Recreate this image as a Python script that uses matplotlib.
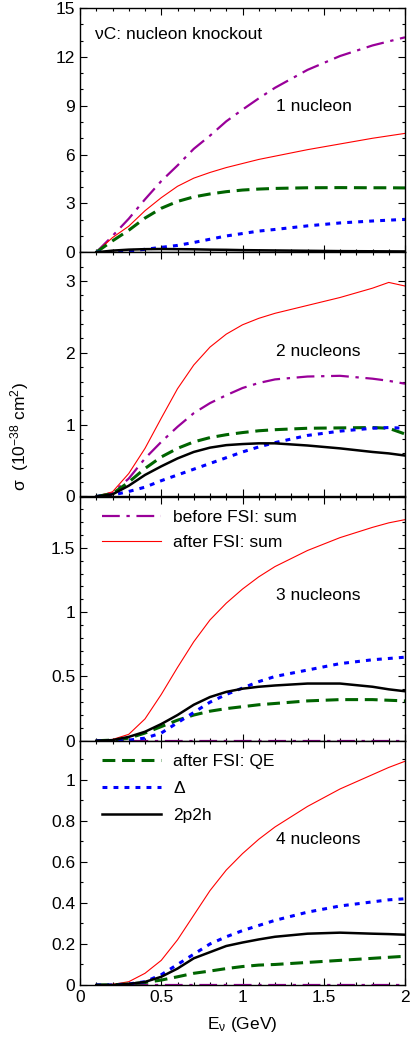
import numpy as np
import matplotlib
matplotlib.use('Agg')
import matplotlib.pyplot as plt
from matplotlib.ticker import MultipleLocator, FuncFormatter

plt.rcParams['font.family'] = ['Liberation Sans', 'DejaVu Sans']
plt.rcParams['mathtext.default'] = 'regular'

# neutrino energy grid (GeV)
E = [0.1, 0.2, 0.3, 0.4, 0.5, 0.6, 0.7, 0.8, 0.9, 1.0, 1.1, 1.2, 1.4, 1.6, 1.8, 1.9, 2.0]

# 1 nucleon
before_1 = [0, 1.0, 2.06, 3.25, 4.37, 5.33, 6.35, 7.16, 8.04, 8.76, 9.45, 10.1, 11.2, 12.05, 12.7, 12.95, 13.2]
after_1 = [0, 0.9, 1.6, 2.55, 3.35, 4.05, 4.55, 4.9, 5.2, 5.45, 5.7, 5.9, 6.3, 6.65, 7.0, 7.15, 7.3]
qe_1 = [0, 0.7, 1.35, 2.1, 2.7, 3.12, 3.4, 3.58, 3.72, 3.82, 3.88, 3.92, 3.96, 3.97, 3.96, 3.96, 3.95]
delta_1 = [0, 0.02, 0.08, 0.18, 0.3, 0.42, 0.6, 0.8, 1.0, 1.15, 1.3, 1.4, 1.62, 1.8, 1.92, 1.97, 2.02]
np2h_1 = [0, 0.1, 0.16, 0.19, 0.2, 0.19, 0.18, 0.16, 0.15, 0.13, 0.12, 0.11, 0.09, 0.07, 0.06, 0.055, 0.05]

# 2 nucleons
before_2 = [0, 0.05, 0.25, 0.53, 0.76, 0.97, 1.16, 1.3, 1.41, 1.51, 1.58, 1.63, 1.67, 1.68, 1.64, 1.61, 1.57]
after_2 = [0, 0.065, 0.32, 0.67, 1.09, 1.5, 1.83, 2.08, 2.26, 2.39, 2.48, 2.55, 2.66, 2.77, 2.9, 2.98, 2.93]
qe_2 = [0, 0.04, 0.2, 0.39, 0.55, 0.67, 0.76, 0.82, 0.86, 0.89, 0.915, 0.93, 0.95, 0.955, 0.96, 0.95, 0.87]
delta_2 = [0, 0.02, 0.07, 0.13, 0.22, 0.3, 0.38, 0.46, 0.54, 0.62, 0.69, 0.75, 0.85, 0.91, 0.95, 0.96, 0.95]
np2h_2 = [0, 0.03, 0.15, 0.3, 0.42, 0.53, 0.62, 0.68, 0.715, 0.73, 0.74, 0.74, 0.71, 0.67, 0.62, 0.6, 0.57]

# 3 nucleons
before_3 = [0] * 17
after_3 = [0, 0.01, 0.05, 0.17, 0.36, 0.57, 0.77, 0.94, 1.07, 1.18, 1.275, 1.355, 1.48, 1.58, 1.66, 1.695, 1.72]
qe_3 = [0, 0.005, 0.02, 0.06, 0.11, 0.16, 0.2, 0.23, 0.25, 0.265, 0.28, 0.29, 0.31, 0.32, 0.32, 0.315, 0.31]
delta_3 = [0, 0.0, 0.005, 0.02, 0.06, 0.14, 0.22, 0.3, 0.36, 0.41, 0.46, 0.5, 0.55, 0.6, 0.63, 0.64, 0.65]
np2h_3 = [0, 0.005, 0.03, 0.07, 0.13, 0.2, 0.28, 0.34, 0.38, 0.405, 0.42, 0.43, 0.445, 0.445, 0.42, 0.4, 0.385]

# 4 nucleons
before_4 = [0] * 17
after_4 = [0, 0.003, 0.016, 0.057, 0.12, 0.22, 0.34, 0.46, 0.56, 0.64, 0.71, 0.77, 0.87, 0.955, 1.025, 1.06, 1.09]
qe_4 = [0, 0.001, 0.005, 0.012, 0.024, 0.04, 0.057, 0.068, 0.08, 0.09, 0.097, 0.1, 0.11, 0.12, 0.13, 0.135, 0.14]
delta_4 = [0, 0.0, 0.005, 0.016, 0.05, 0.1, 0.15, 0.2, 0.235, 0.265, 0.29, 0.315, 0.355, 0.385, 0.405, 0.415, 0.42]
np2h_4 = [0, 0.0, 0.005, 0.015, 0.04, 0.08, 0.13, 0.16, 0.19, 0.207, 0.222, 0.235, 0.25, 0.255, 0.25, 0.248, 0.245]

panels = [
    (before_1, after_1, qe_1, delta_1, np2h_1),
    (before_2, after_2, qe_2, delta_2, np2h_2),
    (before_3, after_3, qe_3, delta_3, np2h_3),
    (before_4, after_4, qe_4, delta_4, np2h_4),
]
panel_names = ['1 nucleon', '2 nucleons', '3 nucleons', '4 nucleons']
ymax = [15, 3.4, 1.9, 1.19]
ymajor = [3, 1, 0.5, 0.2]
yminor = [1, 0.2, 0.1, 0.1]

W, H = 413, 1051
fig = plt.figure(figsize=(W / 100, H / 100), dpi=100)

left, right = 80 / W, 405 / W
top_px, bot_px = 8, 985
ph = (bot_px - top_px) / 4

fmt = FuncFormatter(lambda v, p: '%g' % round(v, 3))
axes = []
for i in range(4):
    y0 = 1 - (top_px + (i + 1) * ph) / H
    ax = fig.add_axes([left, y0, right - left, ph / H])
    axes.append(ax)
    b, a, q, d, n = panels[i]
    l1, = ax.plot(E, b, color='#990099', lw=1.6, dashes=(8, 3, 1.5, 3), label='before FSI: sum')
    l2, = ax.plot(E, a, color='#ff0000', lw=0.8, label='after FSI: sum')
    l3, = ax.plot(E, q, color='#006400', lw=2.2, dashes=(4.2, 2.2), label='after FSI: QE')
    l4, = ax.plot(E, d, color='#0000ff', lw=2.2, dashes=(1.6, 2.0), label='\u0394')
    l5, = ax.plot(E, n, color='black', lw=1.8, label='2p2h')
    ax.set_xlim(0, 2)
    ax.set_ylim(0, ymax[i])
    ax.xaxis.set_major_locator(MultipleLocator(0.5))
    ax.xaxis.set_minor_locator(MultipleLocator(0.1))
    ax.yaxis.set_major_locator(MultipleLocator(ymajor[i]))
    ax.yaxis.set_minor_locator(MultipleLocator(yminor[i]))
    ax.yaxis.set_major_formatter(fmt)
    ax.xaxis.set_major_formatter(fmt)
    ax.tick_params(which='both', direction='in', top=True, right=True, labelsize=12.5, width=0.8)
    ax.tick_params(which='major', length=5)
    ax.tick_params(which='minor', length=2.5)
    if i < 3:
        ax.tick_params(labelbottom=False)
    for s in ax.spines.values():
        s.set_linewidth(1.0)
    ax.text(0.603, 0.595, panel_names[i], transform=ax.transAxes, fontsize=12.5,
            ha='left', va='center')
    if i == 2:
        ax.legend(handles=[l1, l2], loc='upper left', bbox_to_anchor=(0.03, 0.995),
                  frameon=False, fontsize=12.5, handlelength=3.4, handletextpad=0.7,
                  labelspacing=0.55, borderaxespad=0.3)
    if i == 3:
        ax.legend(handles=[l3, l4, l5], loc='upper left', bbox_to_anchor=(0.03, 0.995),
                  frameon=False, fontsize=12.5, handlelength=3.4, handletextpad=0.7,
                  labelspacing=0.68, borderaxespad=0.3)

axes[0].text(0.046, 0.89, '\u03bdC: nucleon knockout', transform=axes[0].transAxes,
             fontsize=12.5, ha='left', va='center')
axes[3].set_xlabel('E$_{\u03bd}$ (GeV)', fontsize=12.5, labelpad=7)
fig.text(20 / W, 1 - 437 / H, '\u03c3  (10$^{-38}$ cm$^{2}$)', rotation=90,
         fontsize=12.5, ha='center', va='center')

fig.savefig('out.png', dpi=100)
